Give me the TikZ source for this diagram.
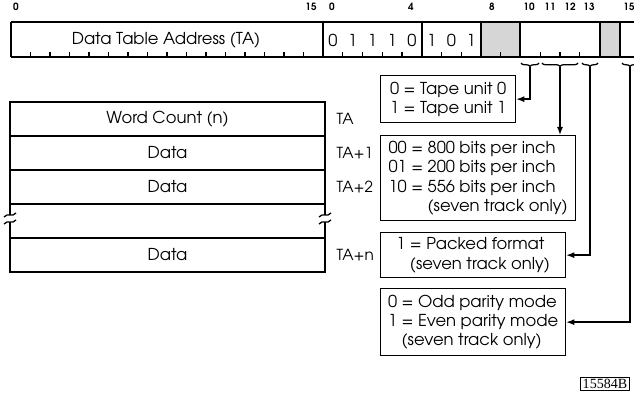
\documentclass[tikz,border=0pt]{standalone}
\usepackage{fontspec}
\setmainfont{texgyreadventor}[Extension=.otf,UprightFont=*-regular,BoldFont=*-bold]
\newfontfamily\serifb{Liberation Serif}
\usetikzlibrary{arrows.meta,decorations.pathreplacing}
\begin{document}
\begin{tikzpicture}[x=0.03cm,y=-0.03cm,line width=1.1pt,
  txt/.style={font=\fontsize{14}{16.5}\selectfont,inner sep=0pt},
  talbl/.style={font=\fontsize{13}{15}\selectfont,inner sep=0pt,anchor=west},
  bitlbl/.style={font=\fontsize{8.5}{10}\selectfont\bfseries,inner sep=0pt},
  rowbox/.style={draw,minimum width=315*0.03cm,minimum height=34*0.03cm,inner sep=0pt,font=\fontsize{14}{16.5}\selectfont},
  infobox/.style={draw,anchor=north west,align=left,inner xsep=4pt,inner ysep=0pt,font=\fontsize{14}{16.5}\selectfont},
  fieldline/.style={line width=1.7pt},
  shade/.style={fill=black!16},
  ubrace/.style={decorate,decoration={brace,mirror,amplitude=3pt}},
  arr/.style={-{Latex[length=2.4mm,width=1.8mm]}}
]
\useasboundingbox (0,0) rectangle (634,404);

% ---- bit number labels
\node[bitlbl] (n0) at (16,7) {0};
\node[bitlbl] (n15) at (311,7) {15};
\node[bitlbl] (m0) at (332,7) {0};
\node[bitlbl] (m4) at (411,7) {4};
\node[bitlbl] (m8) at (492,7) {8};
\node[bitlbl] (m10) at (529,7) {10};
\node[bitlbl] (m11) at (550,7) {11};
\node[bitlbl] (m12) at (570,7) {12};
\node[bitlbl] (m13) at (589,7) {13};
\node[bitlbl] (m15) at (629,7) {15};

% ---- register
\fill[shade] (481,22) rectangle (520,57);
\fill[shade] (600,22) rectangle (620,57);
\draw (11,22) -- (634,22);
\draw (11,57) -- (634,57);
\draw (11,22) -- (11,57);
\draw (323,22) -- (323,57);
\draw[fieldline] (422,22) -- (422,57);
\draw[fieldline] (481,22) -- (481,57);
\draw[fieldline] (520,22) -- (520,57);
\draw (600,22) -- (600,57);
\draw[fieldline] (620,22) -- (620,57);
\foreach \k in {1,...,15} \draw ({11+19.5*\k},57) -- ++(0,-5);
\foreach \k in {1,2,3,4,6,7,9,11,12,13} \draw ({323+19.75*\k},57) -- ++(0,-5);

\node[txt] (dta) at (166,40) {Data Table Address (TA)};
\foreach \d/\k in {0/0,1/1,1/2,1/3,0/4,1/5,0/6,1/7}
  \node[txt] (d\k) at ({323+19.75*(\k+0.5)},40) {\d};

% ---- braces under bits
\draw[ubrace] (521,63) -- (539,63);
\draw[ubrace] (542,63) -- (578,63);
\draw[ubrace] (582,63) -- (598,63);
\draw[ubrace] (622,63) -- (638,63);
\coordinate (b10) at (530,67);
\coordinate (b1112) at (560,67);
\coordinate (b13) at (590,67);
\coordinate (b15) at (630,67);

% ---- info boxes
\node[infobox,minimum width=135*0.03cm,minimum height=47*0.03cm] (tape) at (380,75)
  {0 = Tape unit 0\\1 = Tape unit 1};
\node[infobox,minimum width=195*0.03cm,minimum height=85*0.03cm] (rate) at (380,135)
  {00 = 800 bits per inch\\01 = 200 bits per inch\\10 = 556 bits per inch\\\phantom{10 =} (seven track only)};
\node[infobox,minimum width=185*0.03cm,minimum height=45*0.03cm] (packed) at (380,232)
  {1 = Packed format\\\phantom{1} (seven track only)};
\node[infobox,minimum width=185*0.03cm,minimum height=67*0.03cm] (parity) at (380,288)
  {0 = Odd parity mode\\1 = Even parity mode\\\phantom{1} (seven track only)};

\draw[arr] (b10) |- (tape.east);
\draw[arr] (b1112) -- (b1112 |- rate.north);
\draw[arr] (b13) |- (packed.east);
\draw[arr] (b15) |- (parity.east);

% ---- data table
\node[rowbox] (r1) at (167.5,119) {Word Count (n)};
\node[rowbox] (r2) at (167.5,153) {Data};
\node[rowbox] (r3) at (167.5,187) {Data};
\node[rowbox,draw=none] (r4) at (167.5,221) {};
\node[rowbox] (r5) at (167.5,255) {Data};
\foreach \xx in {10,325} {
  \draw (\xx,204) -- (\xx,215);
  \draw (\xx,222) -- (\xx,238);
  \draw (\xx-6,217) .. controls (\xx-2,212) and (\xx+2,218) .. (\xx+6,213);
  \draw (\xx-6,224) .. controls (\xx-2,219) and (\xx+2,225) .. (\xx+6,220);
}
\node[talbl] (t0) at (336,119) {TA};
\node[talbl] (t1) at (336,153) {TA+1};
\node[talbl] (t2) at (336,187) {TA+2};
\node[talbl] (tn) at (336,255) {TA+n};

% ---- figure number
\node[draw,line width=0.8pt,inner xsep=2pt,inner ysep=1.5pt,font=\serifb\fontsize{12}{13}\selectfont] (fig) at (605,384) {15584B};
\end{tikzpicture}
\end{document}
